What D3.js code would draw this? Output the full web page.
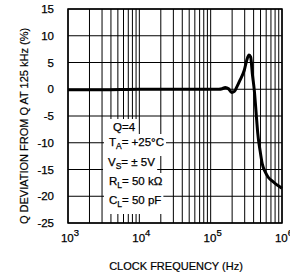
<!DOCTYPE html>
<head>
    <script src="https://cdn.jsdelivr.net/npm/d3@7/dist/d3.min.js"></script>
    <style type="text/css">
        body { margin: 0; background: white; }
        svg { display: block; font-family: "Liberation Sans", Arial, sans-serif; }
        .grid line { stroke: black; stroke-width: 1; }
        .tick-label { font-size: 11.5px; fill: black; stroke: black; stroke-width: 0.25; }
        .title { font-size: 11px; fill: black; stroke: black; stroke-width: 0.2; text-anchor: middle; }
        .note { font-size: 11.5px; fill: black; stroke: black; stroke-width: 0.25; }
    </style>
</head>
<body>
<div id="chart"></div>
<script type="text/javascript">
    // clock frequency (Hz) vs Q deviation (%)
    var freq = [1e3, 3e3, 1e4, 3e4, 1e5, 1.3e5, 1.45e5, 1.6e5, 1.78e5, 1.97e5, 2.15e5, 2.32e5,
                2.58e5, 2.96e5, 3.2e5, 3.45e5, 3.64e5, 3.84e5, 4.09e5, 4.42e5, 4.57e5, 4.92e5,
                5.3e5, 5.8e5, 6.37e5, 7.2e5, 7.98e5, 9e5, 1e6];
    var qDev = [-0.1, -0.1, 0, 0, 0, 0, 0.1, 0.35, 0.1, -0.6, -0.4, 0.4,
                1.7, 3.55, 5.4, 6.4, 6.0, 2.9, -0.2, -5.8, -8.2, -11.4,
                -14.0, -15.4, -16.4, -17.1, -17.6, -18.1, -18.5];

    var yTicks = [15, 10, 5, 0, -5, -10, -15, -20, -25];
    var xDecades = [3, 4, 5, 6];
    var notes = [
        { main: "Q=4", sub: "", rest: "" },
        { main: "T", sub: "A", rest: "= +25\u00B0C" },
        { main: "V", sub: "S", rest: "= \u00B1 5V" },
        { main: "R", sub: "L", rest: "= 50 k\u03A9" },
        { main: "C", sub: "L", rest: "= 50 pF" }
    ];

    var margin = { top: 9, left: 68, bottom: 56, right: 8 };
    var W = 290, H = 279;
    var width = W - margin.left - margin.right;
    var height = H - margin.top - margin.bottom;

    var svg = d3.select("#chart").append("svg")
        .attr("width", W)
        .attr("height", H);

    var g = svg.append("g")
        .attr("transform", "translate(" + margin.left + "," + margin.top + ")");

    var x = d3.scaleLog().domain([1e3, 1e6]).range([0, width]);
    var y = d3.scaleLinear().domain([-25, 15]).range([height, 0]);

    // grid
    var minor = [];
    for (var e = 3; e < 6; e++) {
        for (var m = 1; m < 10; m++) minor.push(m * Math.pow(10, e));
    }
    minor.push(1e6);

    var grid = g.append("g").attr("class", "grid");
    grid.selectAll("line.v").data(minor).enter().append("line")
        .attr("class", "v")
        .attr("x1", function (d) { return x(d); })
        .attr("x2", function (d) { return x(d); })
        .attr("y1", 0).attr("y2", height);
    grid.selectAll("line.h").data(yTicks).enter().append("line")
        .attr("class", "h")
        .attr("x1", 0).attr("x2", width)
        .attr("y1", function (d) { return y(d); })
        .attr("y2", function (d) { return y(d); });

    // annotation block (white behind text hides grid)
    var noteX = [45, 41, 40, 41, 41];
    var noteY = [122, 137, 157, 176, 195];
    var nb = g.append("g");
    var bgs = nb.append("g");
    notes.forEach(function (n, i) {
        var t = nb.append("text").attr("class", "note")
            .attr("x", noteX[i]).attr("y", noteY[i]);
        t.append("tspan").text(n.main);
        if (n.sub) {
            t.append("tspan").text(n.sub).attr("dy", 3).style("font-size", "8.5px");
            t.append("tspan").text(n.rest).attr("dy", -3);
        }
        var bb = t.node().getBBox();
        bgs.append("rect")
            .attr("x", bb.x - 5).attr("y", noteY[i] - 12)
            .attr("width", bb.width + 7).attr("height", 22)
            .attr("fill", "white");
    });

    // frame
    g.append("rect")
        .attr("width", width).attr("height", height)
        .attr("fill", "none").attr("stroke", "black").attr("stroke-width", 1.5);

    // curve
    var line = d3.line()
        .x(function (d, i) { return x(freq[i]); })
        .y(function (d) { return y(d); })
        .curve(d3.curveMonotoneX);

    g.append("path")
        .datum(qDev)
        .attr("d", line)
        .attr("fill", "none")
        .attr("stroke", "black")
        .attr("stroke-width", 3)
        .attr("stroke-linejoin", "round");

    // y tick labels
    g.selectAll("text.ylab").data(yTicks).enter().append("text")
        .attr("class", "tick-label ylab")
        .attr("x", -14)
        .attr("y", function (d) { return y(d) + 4; })
        .attr("text-anchor", "end")
        .text(function (d) { return d < 0 ? "-" + Math.abs(d) : d; });

    // x tick labels 10^n
    xDecades.forEach(function (e) {
        var t = g.append("text").attr("class", "tick-label")
            .attr("x", x(Math.pow(10, e)) + 2)
            .attr("y", height + 19)
            .attr("text-anchor", "middle");
        t.append("tspan").text("10");
        t.append("tspan").text(e).attr("dy", -6).style("font-size", "9.5px");
    });

    // axis titles
    svg.append("text").attr("class", "title")
        .attr("x", 176).attr("y", 270)
        .text("CLOCK FREQUENCY (Hz)");

    svg.append("text").attr("class", "title")
        .attr("transform", "translate(28,126) rotate(-90)")
        .text("Q DEVIATION FROM Q AT 125 kHz (%)");
</script>
</body>
</html>
